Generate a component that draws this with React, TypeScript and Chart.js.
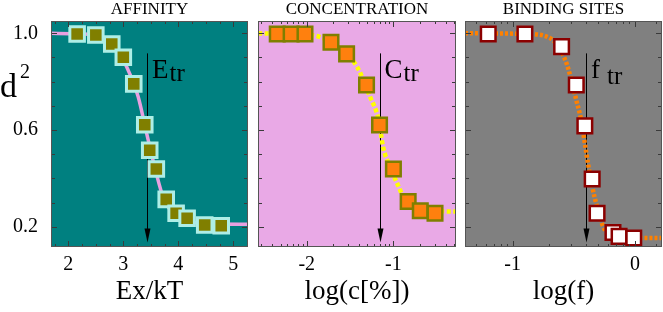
import React, { useEffect, useRef } from "react";
import { Chart, registerables } from "chart.js";
Chart.register(...registerables);

const FONT = "'Liberation Serif', 'Times New Roman', serif";

// ---------- data ----------
const yRange = [0.116, 1.051];
const yTickLabels = [0.2, 0.6, 1.0];
const yMinorTicks = [0.2, 0.3, 0.4, 0.5, 0.6, 0.7, 0.8, 0.9, 1.0];
const arrowTopY = 0.917;
const arrowBottomY = 0.135;

// Panel 1: affinity
const affinityTitle = "AFFINITY";
const affinityXLabel = "Ex/kT";
const affinityXRange = [1.685, 5.267];
const affinityXTicks = [2, 3, 4, 5];
const affinityMinorX = [1.75, 2, 2.25, 2.5, 2.75, 3, 3.25, 3.5, 3.75, 4, 4.25, 4.5, 4.75, 5, 5.25];
const affinityX = [2.16, 2.5, 2.79, 3.0, 3.19, 3.39, 3.48, 3.6, 3.78, 3.96, 4.16, 4.48, 4.78];
const affinityY = [0.997, 0.993, 0.956, 0.901, 0.791, 0.622, 0.516, 0.439, 0.313, 0.256, 0.235, 0.207, 0.204];
const affinityFitX = [1.68, 2.2, 2.6, 2.85, 3.06, 3.27, 3.42, 3.6, 3.72, 3.9, 4.2, 4.6, 5.27];
const affinityFitY = [1.0, 0.998, 0.985, 0.945, 0.862, 0.738, 0.59, 0.42, 0.325, 0.256, 0.222, 0.212, 0.21];
const affinityTransition = 3.43;

// Panel 2: concentration
const concTitle = "CONCENTRATION";
const concXLabel = "log(c[%])";
const concXRange = [-2.562, -0.278];
const concXTicks = [-2, -1];
const concMinorX = [-2.523, -2.398, -2.301, -2.222, -2.155, -2.097, -2.046, -2, -1.699, -1.523, -1.398, -1.301, -1.222, -1.155, -1.097, -1.046, -1, -0.699, -0.523, -0.398, -0.301];
const concX = [-2.34, -2.18, -2.02, -1.72, -1.54, -1.31, -1.16, -1.0, -0.83, -0.69, -0.52];
const concY = [0.997, 0.997, 0.997, 0.963, 0.915, 0.786, 0.621, 0.439, 0.304, 0.266, 0.256];
const concFitX = [-2.56, -2.2, -1.885, -1.62, -1.42, -1.27, -1.17, -1.12, -1.04, -0.94, -0.85, -0.73, -0.5, -0.28];
const concFitY = [1.0, 0.998, 0.989, 0.938, 0.862, 0.738, 0.642, 0.531, 0.449, 0.366, 0.297, 0.27, 0.264, 0.263];
const concTransition = -1.16;

// Panel 3: binding sites
const bindTitle = "BINDING SITES";
const bindXLabel = "log(f)";
const bindXRange = [-1.39, 0.221];
const bindXTicks = [-1, 0];
const bindMinorX = [-1.301, -1.222, -1.155, -1.097, -1.046, -1, -0.699, -0.523, -0.398, -0.301, -0.222, -0.155, -0.097, -0.046, 0, 0.176];
const bindX = [-1.2, -0.9, -0.6, -0.48, -0.41, -0.35, -0.31, -0.18, -0.13, -0.01];
const bindY = [0.997, 0.997, 0.945, 0.786, 0.617, 0.397, 0.256, 0.176, 0.16, 0.153];
const bindFitX = [-1.39, -0.9, -0.69, -0.57, -0.52, -0.48, -0.44, -0.41, -0.38, -0.35, -0.31, -0.26, -0.18, -0.05, 0.226];
const bindFitY = [1.0, 0.998, 0.979, 0.89, 0.807, 0.724, 0.642, 0.545, 0.449, 0.366, 0.283, 0.2, 0.159, 0.154, 0.153];
const bindTransition = -0.4;

// ---------- panels ----------
type Spec = {
  title: string; xLabel: string; xRange: number[]; xTicks: number[]; minorX: number[];
  x: number[]; y: number[]; fitX: number[]; fitY: number[]; trX: number;
  main: string; sub: string; subGap: number; subDrop: number;
  bg: string; fill: string; border: string; bw: number;
  line: string; lw: number; dash: number[];
  left: number; width: number; padLeft: number; padRight: number; showY: boolean;
};

const specs: Spec[] = [
  {
    title: affinityTitle, xLabel: affinityXLabel, xRange: affinityXRange, xTicks: affinityXTicks, minorX: affinityMinorX,
    x: affinityX, y: affinityY, fitX: affinityFitX, fitY: affinityFitY, trX: affinityTransition,
    main: "E", sub: "tr", subGap: 1, subDrop: 3,
    bg: "#008080", fill: "#807f00", border: "#aeeee6", bw: 3,
    line: "#e8a0e0", lw: 3.5, dash: [],
    left: 0, width: 250, padLeft: 0, padRight: 2, showY: true,
  },
  {
    title: concTitle, xLabel: concXLabel, xRange: concXRange, xTicks: concXTicks, minorX: concMinorX,
    x: concX, y: concY, fitX: concFitX, fitY: concFitY, trX: concTransition,
    main: "C", sub: "tr", subGap: 1, subDrop: 3,
    bg: "#e9a9e6", fill: "#ff800e", border: "#7f7f00", bw: 2.5,
    line: "#ffff00", lw: 4.5, dash: [4, 2.5],
    left: 252, width: 206, padLeft: 6, padRight: 2, showY: false,
  },
  {
    title: bindTitle, xLabel: bindXLabel, xRange: bindXRange, xTicks: bindXTicks, minorX: bindMinorX,
    x: bindX, y: bindY, fitX: bindFitX, fitY: bindFitY, trX: bindTransition,
    main: "f", sub: "tr", subGap: 7, subDrop: 6,
    bg: "#808080", fill: "#ffffff", border: "#8b0000", bw: 2.5,
    line: "#ff8000", lw: 4.5, dash: [3, 2],
    left: 459, width: 204, padLeft: 6, padRight: 1, showY: false,
  },
];

function decor(p: Spec) {
  return {
    id: "decor",
    beforeDraw(chart: any) {
      const { ctx, chartArea: a } = chart;
      ctx.save();
      ctx.fillStyle = p.bg;
      ctx.fillRect(a.left, a.top, a.right - a.left, a.bottom - a.top);
      ctx.restore();
    },
    beforeDatasetsDraw(chart: any) {
      const { ctx } = chart;
      const xs = chart.scales.x, ys = chart.scales.y;
      const px = Math.round(xs.getPixelForValue(p.trX)) + 0.5;
      const y1 = ys.getPixelForValue(arrowTopY);
      const y2 = ys.getPixelForValue(arrowBottomY);
      ctx.save();
      ctx.strokeStyle = "#000";
      ctx.lineWidth = 1;
      ctx.beginPath();
      ctx.moveTo(px, y1);
      ctx.lineTo(px, y2 - 10);
      ctx.stroke();
      ctx.fillStyle = "#000";
      ctx.beginPath();
      ctx.moveTo(px - 3, y2 - 14);
      ctx.lineTo(px + 3, y2 - 14);
      ctx.lineTo(px, y2);
      ctx.closePath();
      ctx.fill();
      ctx.restore();
    },
    afterDraw(chart: any) {
      const { ctx, chartArea: a } = chart;
      const xs = chart.scales.x, ys = chart.scales.y;
      ctx.save();
      // ticks
      ctx.strokeStyle = "#3a3a3a";
      ctx.lineWidth = 1;
      ctx.beginPath();
      yMinorTicks.forEach((v) => {
        const py = Math.round(ys.getPixelForValue(v)) + 0.5;
        const len = yTickLabels.includes(v) ? 6 : 4;
        ctx.moveTo(a.left, py); ctx.lineTo(a.left + len, py);
        ctx.moveTo(a.right, py); ctx.lineTo(a.right - len, py);
      });
      p.minorX.forEach((v) => {
        const px = Math.round(xs.getPixelForValue(v)) + 0.5;
        const len = p.xTicks.includes(v) ? 6 : 3;
        ctx.moveTo(px, a.bottom); ctx.lineTo(px, a.bottom - len);
        ctx.moveTo(px, a.top); ctx.lineTo(px, a.top + len);
      });
      ctx.stroke();
      // frame
      ctx.strokeStyle = "#555";
      ctx.strokeRect(Math.round(a.left) + 0.5, Math.round(a.top) + 0.5, Math.round(a.right - a.left) - 1, Math.round(a.bottom - a.top) - 1);
      // annotation
      const tx = xs.getPixelForValue(p.trX) + 5;
      ctx.fillStyle = "#000";
      ctx.textBaseline = "alphabetic";
      ctx.textAlign = "left";
      ctx.font = `27px ${FONT}`;
      ctx.fillText(p.main, tx, 78);
      const mw = ctx.measureText(p.main).width;
      ctx.font = `25px ${FONT}`;
      ctx.fillText(p.sub, tx + mw + p.subGap, 78 + p.subDrop);
      // y-axis label
      if (p.showY) {
        ctx.font = `34px ${FONT}`;
        ctx.fillText("d", 0, 97);
        ctx.font = `20px ${FONT}`;
        ctx.fillText("2", 20, 78);
      }
      ctx.restore();
    },
  };
}

function makeConfig(p: Spec): any {
  return {
    type: "scatter",
    data: {
      datasets: [
        {
          type: "scatter",
          data: p.x.map((x, i) => ({ x, y: p.y[i] })),
          pointStyle: "rect",
          pointRadius: 10.3,
          pointBackgroundColor: p.fill,
          pointBorderColor: p.border,
          pointBorderWidth: p.bw,
          order: 0,
        },
        {
          type: "line",
          data: p.fitX.map((x, i) => ({ x, y: p.fitY[i] })),
          borderColor: p.line,
          borderWidth: p.lw,
          borderDash: p.dash,
          borderCapStyle: "butt",
          pointRadius: 0,
          fill: false,
          cubicInterpolationMode: "monotone",
          order: 1,
        },
      ],
    },
    options: {
      responsive: false,
      animation: false,
      devicePixelRatio: 1,
      layout: { autoPadding: false, padding: { left: p.padLeft, right: p.padRight, top: 0, bottom: 0 } },
      plugins: {
        legend: { display: false },
        tooltip: { enabled: false },
        title: {
          display: true,
          text: p.title,
          fullSize: false,
          color: "#000",
          font: { family: FONT, size: 17, weight: "normal", lineHeight: 1.1 },
          padding: { top: 0, bottom: 2.3 },
        },
      },
      scales: {
        x: {
          type: "linear",
          min: p.xRange[0],
          max: p.xRange[1],
          afterBuildTicks: (s: any) => { s.ticks = p.xTicks.map((v) => ({ value: v })); },
          afterFit: (s: any) => { s.height = 65; s.paddingLeft = 0; s.paddingRight = 0; },
          grid: { display: false, drawTicks: false },
          border: { display: false },
          ticks: {
            color: "#000",
            padding: 6,
            maxRotation: 0,
            font: { family: FONT, size: 20 },
            callback: (v: any) => String(v),
          },
          title: {
            display: true,
            text: p.xLabel,
            color: "#000",
            font: { family: FONT, size: 27 },
            padding: { top: 0, bottom: 4 },
          },
        },
        y: {
          type: "linear",
          display: p.showY,
          min: yRange[0],
          max: yRange[1],
          afterBuildTicks: (s: any) => { s.ticks = yTickLabels.map((v) => ({ value: v })); },
          afterFit: (s: any) => { s.width = p.showY ? 51 : 0; s.paddingTop = 0; s.paddingBottom = 0; },
          grid: { display: false, drawTicks: false },
          border: { display: false },
          ticks: {
            color: "#000",
            padding: 13,
            font: { family: FONT, size: 20 },
            callback: (v: any) => Number(v).toFixed(1),
          },
        },
      },
    },
    plugins: [decor(p)],
  };
}

function Panel({ spec }: { spec: Spec }) {
  const ref = useRef<HTMLCanvasElement>(null);
  useEffect(() => {
    const chart = new Chart(ref.current as HTMLCanvasElement, makeConfig(spec));
    return () => chart.destroy();
  }, [spec]);
  return (
    <canvas
      ref={ref}
      width={spec.width}
      height={312}
      style={{ position: "absolute", left: spec.left, top: 0, width: spec.width, height: 312 }}
    />
  );
}

export default function App() {
  return (
    <div style={{ position: "fixed", left: 0, top: 0, width: 663, height: 312, background: "#fff" }}>
      {specs.map((s) => (
        <Panel key={s.title} spec={s} />
      ))}
    </div>
  );
}
